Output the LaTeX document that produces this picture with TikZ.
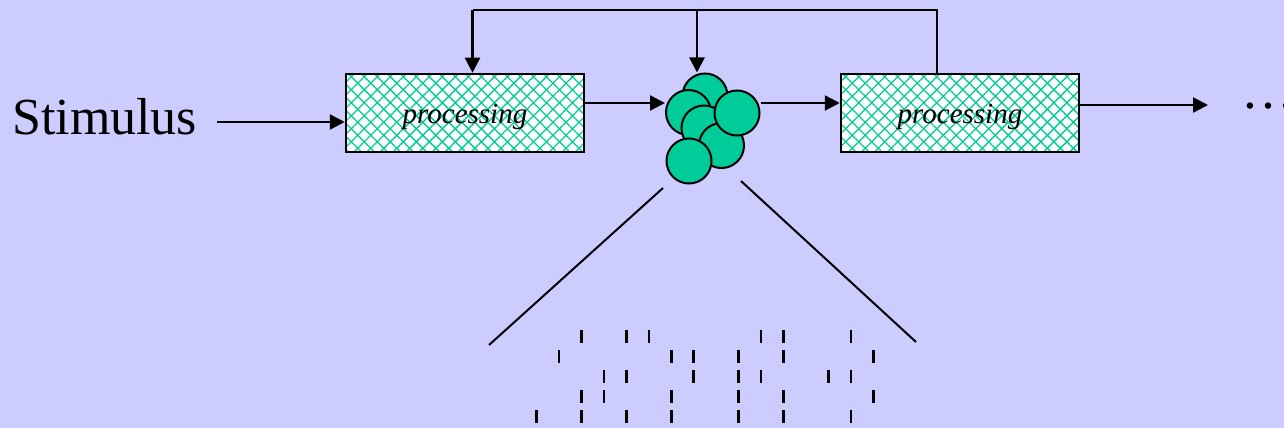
\documentclass[tikz,border=0pt]{standalone}
\usepackage{fontspec}
\setmainfont{Liberation Serif}
\usetikzlibrary{arrows.meta,patterns.meta}
\definecolor{bgblue}{HTML}{CCCCFF}
\definecolor{myteal}{HTML}{00CC99}
\begin{document}
\begin{tikzpicture}[x=1pt,y=-1pt,
  conn/.style={line width=2.5pt},
  arr/.style={conn,-{Triangle[length=15pt,width=15pt]}},
  procbox/.style={line width=2.5pt, draw=black, minimum width=238pt, minimum height=78pt, inner sep=0pt,
    text height=22pt, text depth=2pt,
    font=\itshape\fontsize{29}{29}\selectfont,
    preaction={fill=white},
    preaction={pattern={Lines[angle=45,distance=9.2pt,line width=1.3pt]},pattern color=myteal},
    preaction={pattern={Lines[angle=-45,distance=9.2pt,line width=1.3pt]},pattern color=myteal}},
  circ/.style={circle, draw=black, line width=2pt, fill=myteal, minimum size=45pt, inner sep=0pt},
  spike/.style={line width=2.7pt},
  bigtext/.style={inner sep=0pt, font=\fontsize{52}{52}\selectfont}
]
\fill[bgblue] (0,0) rectangle (1284,428);
\useasboundingbox (0,0) rectangle (1284,428);

% text
\node[bigtext, anchor=base west] (stim) at (12,134) {Stimulus};
\node[inner sep=0pt, font=\fontsize{54}{54}\selectfont, anchor=base west] (dots) at (1241,108.5) {…};

% boxes
\node[procbox] (box1) at (465,113) {processing};
\node[procbox] (box2) at (960,113) {processing};

% neuron cluster
\node[circ] (cA) at (705,96) {};
\node[circ] (cB) at (688.5,112.5) {};
\node[circ] (cC) at (704,128) {};
\node[circ] (cE) at (721.5,145.5) {};
\node[circ] (cD) at (737,113) {};
\node[circ] (cF) at (689,161) {};

% coordinates
\coordinate (s0) at (217,122);
\coordinate (outend) at (1208,105);
\coordinate (fbL) at (472.5,10);
\coordinate (fbM) at (697,10);
\coordinate (fbR) at (937,10);
\coordinate (zl0) at (663,188);
\coordinate (zl1) at (489,345);
\coordinate (zr0) at (741,181);
\coordinate (zr1) at (916,342);

% connectors
\draw[arr] (s0) -- ([yshift=-9pt]box1.west);
\draw[arr] ([yshift=10pt]box1.east) -- ([yshift=9.5pt]cB.west);
\draw[arr] ([yshift=10pt]cD.east) -- ([yshift=10pt]box2.west);
\draw[arr] ([yshift=8pt]box2.east) -- (outend);
\draw[conn] (fbR |- box2.north) -- (fbR) -- (fbL);
\draw[arr] (fbL) -- (fbL |- box1.north);
\draw[arr] (fbM) -- (fbM |- cA.north);

% zoom lines
\draw[line width=2pt] (zl0) -- (zl1);
\draw[line width=2pt] (zr0) -- (zr1);

% spike raster
\foreach \row/\list in {0/{2,4,5,10,11,14}, 1/{1,6,7,9,11,15}, 2/{3,4,7,9,10,13,14}, 3/{2,3,6,9,11,15}, 4/{0,2,4,6,9,11,14}}{
  \foreach \k in \list {
    \draw[spike] ({536.7+\k*22.44},{330+\row*20}) -- ({536.7+\k*22.44},{343.3+\row*20});
  }
}
\end{tikzpicture}
\end{document}
